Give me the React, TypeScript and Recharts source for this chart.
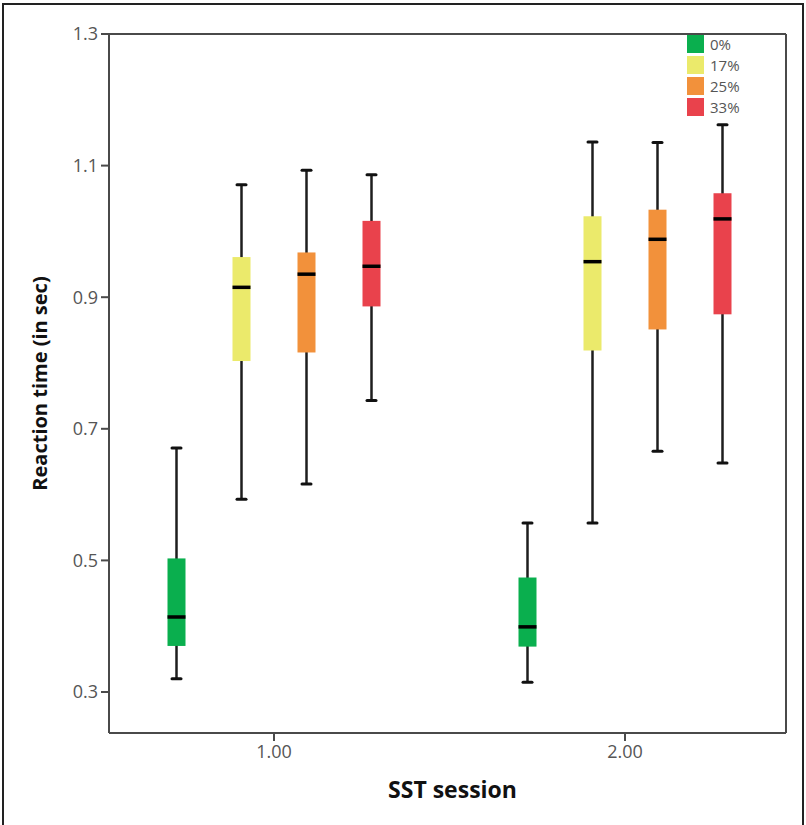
import { Bar, ComposedChart, Label, Legend, XAxis, YAxis } from "recharts";

// SST session x stop-signal probability, reaction time (sec)
const sessions = ["1.00", "2.00"];
const groups = ["0%", "17%", "25%", "33%"];
const colors = ["#0aaf4e", "#ebea6b", "#f2913b", "#e9424c"];
const yTicks = [0.3, 0.5, 0.7, 0.9, 1.1, 1.3];

// each row: one group, [session 1, session 2]
const whiskerLow = [
  [0.32, 0.315],
  [0.593, 0.557],
  [0.616, 0.666],
  [0.743, 0.648],
];
const q1 = [
  [0.37, 0.369],
  [0.803, 0.819],
  [0.816, 0.851],
  [0.886, 0.874],
];
const median = [
  [0.414, 0.399],
  [0.915, 0.954],
  [0.935, 0.988],
  [0.947, 1.019],
];
const q3 = [
  [0.503, 0.474],
  [0.961, 1.023],
  [0.968, 1.033],
  [1.016, 1.058],
];
const whiskerHigh = [
  [0.671, 0.557],
  [1.071, 1.136],
  [1.093, 1.135],
  [1.086, 1.162],
];

const data = sessions.map((s, i) => {
  const row: Record<string, any> = { session: s };
  groups.forEach((_, k) => {
    row[`g${k}`] = [whiskerLow[k][i], whiskerHigh[k][i]];
  });
  return row;
});

const FONT = "'Open Sans', sans-serif";
const AXIS = "#4a4a4a";

function BoxShape(props: any) {
  const { x, y, width, height, index, fill, group } = props;
  const lo = whiskerLow[group][index];
  const hi = whiskerHigh[group][index];
  const top = Math.min(y, y + height);
  const h = Math.abs(height);
  const py = (v: number) => top + ((hi - v) / (hi - lo)) * h;
  const cx = x + width / 2;
  const boxTop = py(q3[group][index]);
  const boxBottom = py(q1[group][index]);
  return (
    <g>
      <line x1={cx} x2={cx} y1={top} y2={top + h} stroke="#1e1e1e" strokeWidth={2.5} />
      <line x1={cx - 4.5} x2={cx + 4.5} y1={top} y2={top} stroke="#111" strokeWidth={3} strokeLinecap="round" />
      <line x1={cx - 4.5} x2={cx + 4.5} y1={top + h} y2={top + h} stroke="#111" strokeWidth={3} strokeLinecap="round" />
      <rect x={x} y={boxTop} width={width} height={boxBottom - boxTop} fill={fill} />
      <line
        x1={x}
        x2={x + width}
        y1={py(median[group][index])}
        y2={py(median[group][index])}
        stroke="#000"
        strokeWidth={3.5}
      />
    </g>
  );
}

function LegendBox(props: any) {
  const items = props.payload || [];
  return (
    <div style={{ fontFamily: FONT }}>
      {items.map((it: any) => (
        <div key={it.value} style={{ display: "flex", alignItems: "center", height: 21 }}>
          <span style={{ width: 17, height: 18, background: it.color, display: "inline-block" }} />
          <span style={{ marginLeft: 6, fontSize: 15, color: "#555" }}>{it.value}</span>
        </div>
      ))}
    </div>
  );
}

export default function App() {
  return (
    <div
      style={{
        position: "absolute",
        left: 0,
        top: 0,
        width: 806,
        height: 825,
        background: "#fff",
        overflow: "hidden",
      }}
    >
      <div
        style={{
          position: "absolute",
          left: 2,
          top: 3,
          width: 798,
          height: 840,
          border: "2px solid #222",
        }}
      />
      <ComposedChart
        width={806}
        height={825}
        data={data}
        barSize={18}
        barGap={47}
        margin={{ top: 33, right: 19, left: 49, bottom: 62 }}
        style={{ position: "absolute", left: 0, top: 0 }}
      >
        <XAxis
          dataKey="session"
          padding={{ left: -10.5, right: -14.5 }}
          height={30}
          tickSize={8}
          tickMargin={4}
          tick={{ fill: "#555", fontSize: 18, fontFamily: FONT }}
          axisLine={{ stroke: AXIS, strokeWidth: 2 }}
          tickLine={{ stroke: AXIS, strokeWidth: 2 }}
        >
          <Label
            content={(p: any) => {
              const vb = p.viewBox;
              return (
                <text
                  x={vb.x + vb.width / 2 + 5}
                  y={vb.y + 65}
                  textAnchor="middle"
                  fontFamily={FONT}
                  fontWeight={700}
                  fontSize={23}
                  fill="#111"
                >
                  SST session
                </text>
              );
            }}
          />
        </XAxis>
        <XAxis
          xAxisId="top"
          dataKey="session"
          orientation="top"
          height={1}
          tick={false}
          tickLine={false}
          axisLine={{ stroke: AXIS, strokeWidth: 2 }}
        />
        <YAxis
          type="number"
          domain={[0.2377, 1.3]}
          ticks={yTicks}
          width={60}
          tickSize={8}
          tickMargin={3}
          tickFormatter={(v) => v.toFixed(1)}
          tick={{ fill: "#555", fontSize: 18, fontFamily: FONT }}
          axisLine={{ stroke: AXIS, strokeWidth: 2 }}
          tickLine={{ stroke: AXIS, strokeWidth: 2 }}
        >
          <Label
            content={(p: any) => {
              const vb = p.viewBox;
              const cy = vb.y + vb.height / 2;
              const lx = vb.x - 2;
              return (
                <text
                  x={lx}
                  y={cy}
                  transform={`rotate(-90, ${lx}, ${cy})`}
                  textAnchor="middle"
                  fontFamily={FONT}
                  fontWeight={700}
                  fontSize={20}
                  fill="#111"
                >
                  Reaction time (in sec)
                </text>
              );
            }}
          />
        </YAxis>
        <YAxis
          yAxisId="right"
          orientation="right"
          width={1}
          domain={[0, 1]}
          tick={false}
          tickLine={false}
          axisLine={{ stroke: AXIS, strokeWidth: 2 }}
        />
        <Legend
          verticalAlign="middle"
          align="center"
          layout="vertical"
          content={<LegendBox />}
          wrapperStyle={{ position: "absolute", left: 687, top: 33, width: 80 }}
        />
        {groups.map((g, k) => (
          <Bar
            key={g}
            dataKey={`g${k}`}
            name={g}
            fill={colors[k]}
            isAnimationActive={false}
            shape={(p: any) => <BoxShape {...p} group={k} />}
          />
        ))}
      </ComposedChart>
    </div>
  );
}
